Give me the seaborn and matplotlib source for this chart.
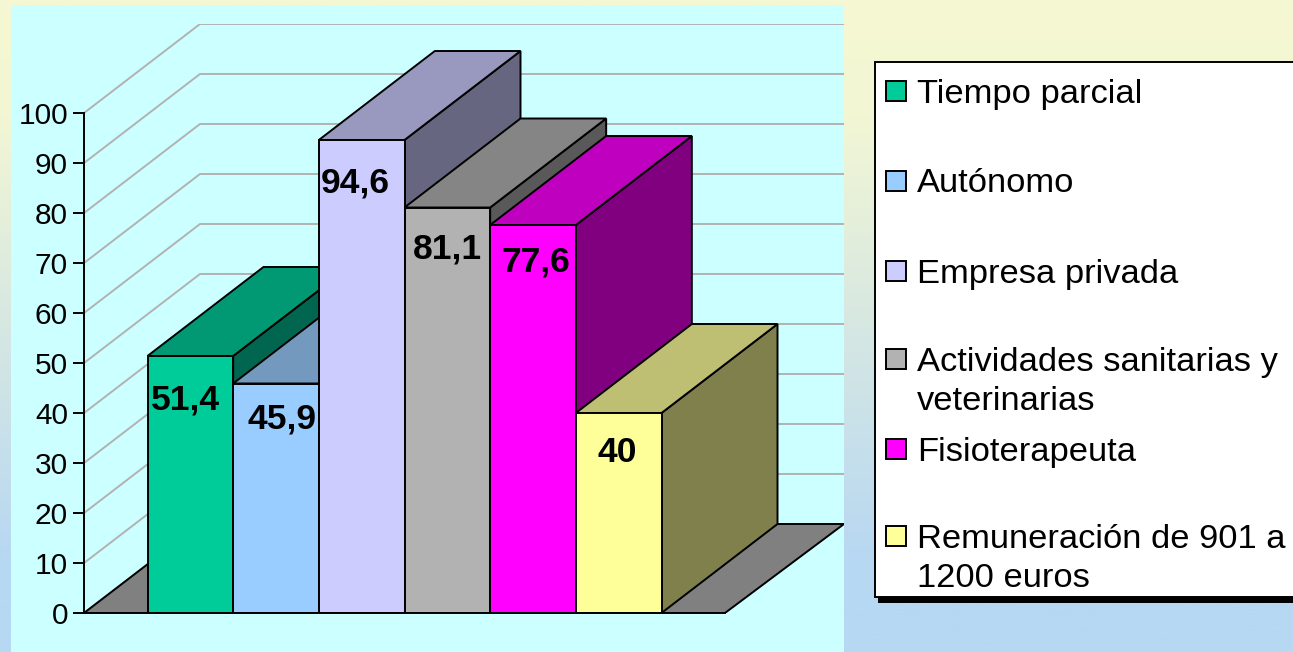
import numpy as np
import pandas as pd
import seaborn as sns
import matplotlib.pyplot as plt
from matplotlib.colors import LinearSegmentedColormap
from matplotlib.patches import Polygon, Rectangle

series = ["Tiempo parcial", "Autónomo", "Empresa privada",
          "Actividades sanitarias y\nveterinarias", "Fisioterapeuta",
          "Remuneración de 901 a\n1200 euros"]
values = [51.4, 45.9, 94.6, 81.1, 77.6, 40]
front_colors = ["#00CC99", "#99CCFF", "#CCCCFF", "#B2B2B2", "#FF00FF", "#FFFF99"]
top_colors = ["#009973", "#7399BF", "#9999BF", "#858585", "#BF00BF", "#BFBF73"]
side_colors = ["#006650", "#4D6680", "#666680", "#595959", "#800080", "#80804D"]
y_ticks = [0, 10, 20, 30, 40, 50, 60, 70, 80, 90, 100]

W, H = 1293, 652
LINE = 1.4

sns.set_theme(style="white")
plt.rcParams["font.family"] = ["Liberation Sans", "DejaVu Sans"]

fig = plt.figure(figsize=(W / 100, H / 100), dpi=100)

# background and legend are laid out in pixel coordinates
bg = fig.add_axes([0, 0, 1, 1])
bg.set_xlim(0, W)
bg.set_ylim(H, 0)
bg.axis("off")
cmap = LinearSegmentedColormap.from_list(
    "slide", [(0, "#F5F8D2"), (0.18, "#F2F6D4"), (0.85, "#B8D8F2"), (1, "#B6D8F3")])
bg.imshow(np.linspace(0, 1, 256).reshape(-1, 1), cmap=cmap, aspect="auto", extent=(0, W, H, 0))
bg.add_patch(Rectangle((11, 5), 833, 647, fc="#CCFFFF", ec="none"))

bg.add_patch(Rectangle((878, 597), 420, 6, fc="black", ec="none"))
bg.add_patch(Rectangle((874.5, 62), 425, 535, fc="white", ec="black", lw=LINE))
handle_y = [91, 181, 271, 359, 449, 536]
text_y = [94, 184, 274, 382, 452, 559]
for name, color, hy, ty in zip(series, front_colors, handle_y, text_y):
    bg.add_patch(Rectangle((885.5, hy - 10), 20, 20, fc=color, ec="black", lw=LINE))
    bg.text(917, ty, name, fontsize=24.8, va="center", ha="left", color="black", linespacing=1.32)

# chart: value 0 sits at y=613, 5 px per unit, front floor runs 84..725
ax = fig.add_axes([84 / W, (H - 613) / H, 760 / W, 589 / H])
ax.patch.set_alpha(0)

df = pd.DataFrame({"grupo": [""] * len(series), "serie": series, "valor": values})
sns.barplot(data=df, x="grupo", y="valor", hue="serie", hue_order=series,
            palette=front_colors, saturation=1, width=514 / 641, gap=0,
            edgecolor="black", linewidth=LINE, legend=False, ax=ax)

x_left, x_right = -0.5, 0.5
x_end = x_left + 760 / 641
ax.set_xlim(x_left, x_end)
ax.set_ylim(0, 589 / 5)
depth_x = 116 / 641
depth_y = 89 / 5

# wall gridlines
for v in y_ticks:
    ax.plot([x_left, x_left + depth_x, x_end], [v, v + depth_y, v + depth_y],
            color="#B2B2B2", lw=LINE, zorder=1, solid_joinstyle="miter")

# floor
ax.add_patch(Polygon([(x_left, 0), (x_right, 0), (x_end, depth_y), (x_left + depth_x, depth_y)],
                     closed=True, fc="#808080", ec="black", lw=LINE, zorder=2))

label_offsets = [(-5, -44), (6, -35), (-6, -43), (0, -42), (3, -37), (-1, -40)]
for i, bar in enumerate(ax.patches[:len(series)]):
    x0, x1 = bar.get_x(), bar.get_x() + bar.get_width()
    v = bar.get_height()
    z = 3 + i
    ax.add_patch(Polygon([(x1, 0), (x1 + depth_x, depth_y), (x1 + depth_x, v + depth_y), (x1, v)],
                         closed=True, fc=side_colors[i], ec="black", lw=LINE, zorder=z))
    ax.add_patch(Polygon([(x0, v), (x1, v), (x1 + depth_x, v + depth_y), (x0 + depth_x, v + depth_y)],
                         closed=True, fc=top_colors[i], ec="black", lw=LINE, zorder=z))
    bar.set_zorder(z + 0.5)
    ax.annotate(f"{v:g}".replace(".", ","), xy=(x0 + bar.get_width() / 2, v),
                xytext=label_offsets[i], textcoords="offset pixels",
                ha="center", va="center", fontsize=25.5, fontweight="bold", color="black", zorder=20)

sns.despine(ax=ax, top=True, right=True)
ax.spines["left"].set_bounds(0, 100)
ax.spines["bottom"].set_bounds(x_left, x_right)
for side in ["left", "bottom"]:
    ax.spines[side].set_linewidth(LINE)
    ax.spines[side].set_color("black")
    ax.spines[side].set_zorder(15)
ax.set_xticks([])
ax.set_yticks(y_ticks)
ax.tick_params(axis="y", left=True, length=8, width=LINE, pad=3.5, labelsize=21.5, labelcolor="black", color="black")
ax.set_xlabel("")
ax.set_ylabel("")

fig.savefig("out.png", dpi=100)
